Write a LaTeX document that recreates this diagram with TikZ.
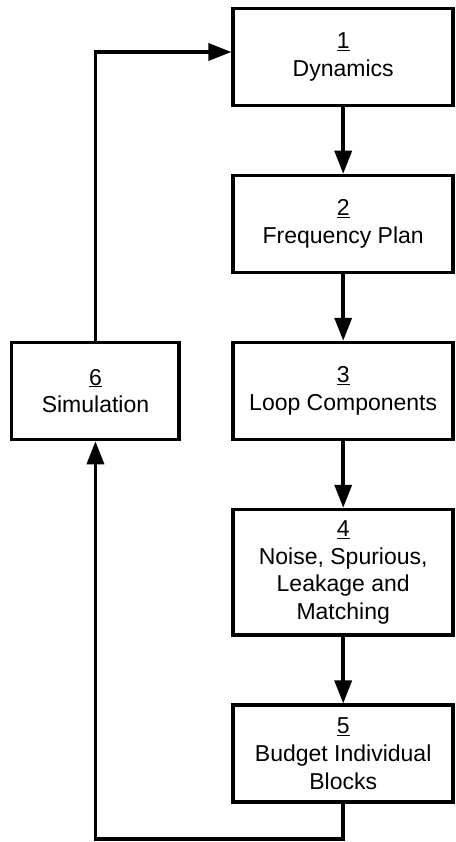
\documentclass[tikz,border=0pt]{standalone}
\usepackage{fontspec}
\setmainfont{Liberation Sans}
\usetikzlibrary{positioning, arrows.meta}
\tikzstyle{block}=[draw, line width=3.5pt, minimum width=220pt, minimum height=97pt, inner sep=11pt, align=center, font=\fontsize{23}{27.7}\selectfont]
\tikzstyle{flow}=[line width=3.5pt, -{Triangle[width=17pt,length=23pt]}]

\begin{document}
\begin{tikzpicture}[node distance=66.5pt]
    \useasboundingbox (0,0) rectangle (455pt,-842pt);
    \node[block] (s1) at (343.2pt,-57pt) {\underline{1}\\Dynamics};
    \node[block, below=of s1] (s2) {\underline{2}\\Frequency Plan};
    \node[block, below=of s2] (s3) {\underline{3}\\Loop Components};
    \node[block, below=of s3] (s4) {\underline{4}\\Noise, Spurious,\\Leakage and\\Matching};
    \node[block, below=of s4] (s5) {\underline{5}\\Budget Individual\\Blocks};
    \node[block, minimum width=167.5pt, left=50.5pt of s3] (s6) {\underline{6}\\Simulation};
    \coordinate[below=35pt of s5] (c5);
    \coordinate (c1) at ([yshift=5pt]s1.west);
    \draw[flow] (s1) -- (s2);
    \draw[flow] (s2) -- (s3);
    \draw[flow] (s3) -- (s4);
    \draw[flow] (s4) -- (s5);
    \draw[flow] (s5) -- (c5) -| (s6);
    \draw[flow] (s6) |- (c1);
\end{tikzpicture}
\end{document}
